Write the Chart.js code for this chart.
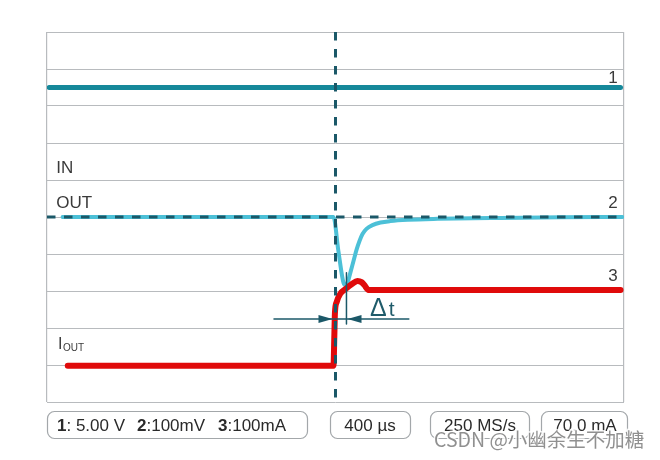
<!DOCTYPE html>
<html><head><meta charset="utf-8">
<script src="https://cdn.jsdelivr.net/npm/chart.js@4/dist/chart.umd.min.js"></script>
<style>html,body{margin:0;padding:0;background:#fff;}canvas{display:block;}</style>
</head><body>
<canvas id="c" width="660" height="460"></canvas>
<script>
// Horizontal: time in divisions (400 µs/div), 0 = trigger. Vertical: screen divisions.
const ch1X = [-4.96, 4.94];
const ch1Y = [3.5, 3.5];

const ch2X = [-4.73, -0.035, 0.05, 0.139, 0.173, 0.208, 0.26, 0.312, 0.364, 0.416, 0.468, 0.537, 0.641, 0.78, 0.95, 1.25, 1.77, 2.86, 3.90, 4.97];
const ch2Y = [0, 0, -0.92, -1.78, -1.84, -1.78, -1.49, -1.19, -0.89, -0.65, -0.46, -0.32, -0.22, -0.15, -0.11, -0.075, -0.05, -0.025, -0.01, 0];

const ch3X = [-4.64, -0.035, -0.02, -0.01, 0.02, 0.08, 0.18, 0.28, 0.38, 0.45, 0.50, 0.57, 4.94];
const ch3Y = [-4.02, -4.02, -3.2, -2.6, -2.3, -2.08, -1.94, -1.82, -1.73, -1.76, -1.84, -1.97, -1.97];

const triggerX = [0, 0];
const triggerY = [5, -5];
const refX = [-5, 5];
const refY = [0, 0];

const dtLineX = [-1.075, 1.28];
const dtLineY = [-2.76, -2.76];
const dtMarkX = [0.19, 0.19];
const dtMarkY = [-1.51, -2.89];
const dtArrowTipX = [-0.052, 0.208];   // left arrow points right, right arrow points left
const dtArrowY = -2.76;

const channelNames = ['1', '2', '3'];
const settings = [['1', ': 5.00 V'], ['2', ':100mV'], ['3', ':100mA']];
const timebase = '400 µs';
const sampleRate = '250 MS/s';
const trigLevel = '70.0 mA';
const watermark = 'CSDN @小幽余生不加糖';

const pts = (xs, ys) => xs.map((x, i) => ({x, y: ys[i]}));

const C_GRID = '#b8bbbe';
const C_TEAL = '#15889a';
const C_CYAN = '#4cc0d7';
const C_DASH = '#1b5868';
const C_RED = '#e00a0a';
const C_TEXT = '#3a3a3a';
const FONT = '"Liberation Sans", Arial, sans-serif';

const overlay = {
  id: 'overlay',
  afterDatasetsDraw(chart) {
    const {ctx} = chart;
    const xs = chart.scales.x, ys = chart.scales.y;
    const px = v => xs.getPixelForValue(v), py = v => ys.getPixelForValue(v);
    ctx.save();
    // arrowheads of the Δt marker
    ctx.fillStyle = C_DASH;
    const ay = py(dtArrowY);
    [[dtArrowTipX[0], -1], [dtArrowTipX[1], 1]].forEach(([tx, dir]) => {
      const x = px(tx);
      ctx.beginPath();
      ctx.moveTo(x, ay);
      ctx.lineTo(x + dir * 14, ay - 4);
      ctx.lineTo(x + dir * 14, ay + 4);
      ctx.closePath();
      ctx.fill();
    });
    // Δt text
    ctx.fillStyle = '#1f5b6a';
    ctx.textBaseline = 'alphabetic';
    ctx.textAlign = 'left';
    ctx.font = '25px ' + FONT;
    const dx = px(0.6), dy = py(-2.46) + 8;
    ctx.fillText('Δ', dx, dy);
    const dw = ctx.measureText('Δ').width;
    ctx.font = '21px ' + FONT;
    ctx.fillText('t', dx + dw + 2, dy);

    // channel markers
    ctx.textBaseline = 'middle';
    ctx.font = '17px ' + FONT;
    ctx.fillStyle = C_TEXT;
    ctx.textAlign = 'right';
    ctx.fillText(channelNames[0], px(4.89), py(3.76));
    ctx.fillText(channelNames[1], px(4.89), py(0.38));
    ctx.fillText(channelNames[2], px(4.89), py(-1.6));
    ctx.textAlign = 'left';
    ctx.fillText('IN', px(-4.84), py(1.32));
    ctx.fillText('OUT', px(-4.84), py(0.38));
    ctx.font = '16px ' + FONT;
    ctx.fillText('I', px(-4.81), py(-3.46));
    ctx.font = '10px ' + FONT;
    ctx.fillText('OUT', px(-4.81) + 5, py(-3.46) + 3);

    // bottom info boxes
    const boxes = [[47, 307], [330, 410], [430, 529], [541, 627]];
    ctx.strokeStyle = '#a3a7aa';
    ctx.lineWidth = 1.2;
    boxes.forEach(([l, r]) => {
      ctx.beginPath();
      ctx.roundRect(l + 0.5, 411.5, r - l, 27, 7);
      ctx.stroke();
    });
    ctx.fillStyle = '#2a2a2a';
    ctx.textBaseline = 'alphabetic';
    const segX = [57, 137, 218];
    settings.forEach(([n, rest], i) => {
      ctx.font = 'bold 17px ' + FONT;
      ctx.textAlign = 'left';
      ctx.fillText(n, segX[i], 431);
      const w = ctx.measureText(n).width;
      ctx.font = '17px ' + FONT;
      ctx.fillText(rest, segX[i] + w, 431);
    });
    ctx.textAlign = 'center';
    ctx.fillText(timebase, 370, 431);
    ctx.fillText(sampleRate, 480, 431);
    ctx.fillText(trigLevel, 585, 431);

    // watermark
    ctx.font = '19.5px "Noto Sans CJK SC", sans-serif';
    ctx.textAlign = 'left';
    ctx.textBaseline = 'middle';
    ctx.lineWidth = 3;
    ctx.strokeStyle = 'rgba(255,255,255,0.85)';
    ctx.strokeText(watermark, 434, 440);
    ctx.fillStyle = 'rgba(125,125,125,0.85)';
    ctx.fillText(watermark, 434, 440);
    ctx.restore();
  }
};

const lineDs = (data, color, width, order, extra) => Object.assign({
  data, borderColor: color, borderWidth: width, pointRadius: 0, showLine: true, order,
  fill: false, borderCapStyle: 'round', borderJoinStyle: 'round'
}, extra || {});

new Chart(document.getElementById('c'), {
  type: 'scatter',
  data: {
    datasets: [
      lineDs(pts(ch1X, ch1Y), C_TEAL, 5, 7),
      lineDs(pts(ch2X, ch2Y), C_CYAN, 4, 6, {cubicInterpolationMode: 'monotone'}),
      lineDs(pts(ch3X, ch3Y), C_RED, 6, 5, {cubicInterpolationMode: 'monotone'}),
      lineDs(pts(refX, refY), C_DASH, 3, 4, {borderDash: [8.5, 8.5], borderCapStyle: 'butt'}),
      lineDs(pts(triggerX, triggerY), C_DASH, 3, 3, {borderDash: [8.5, 8.5], borderCapStyle: 'butt'}),
      lineDs(pts(dtLineX, dtLineY), C_DASH, 1.5, 2, {borderCapStyle: 'butt'}),
      lineDs(pts(dtMarkX, dtMarkY), C_DASH, 1.5, 1, {borderCapStyle: 'butt'})
    ]
  },
  options: {
    responsive: false,
    animation: false,
    devicePixelRatio: 1,
    layout: {padding: {left: 47, right: 36, top: 32, bottom: 58}},
    plugins: {legend: {display: false}, tooltip: {enabled: false}},
    scales: {
      x: {
        type: 'linear', min: -5, max: 5,
        ticks: {display: false, stepSize: 5},
        grid: {drawTicks: false, lineWidth: 1.2,
          color: c => (c.tick && Math.abs(c.tick.value) === 5) ? C_GRID : 'rgba(0,0,0,0)'},
        border: {display: false}
      },
      y: {
        type: 'linear', min: -5, max: 5,
        ticks: {display: false, stepSize: 1},
        grid: {drawTicks: false, color: C_GRID, lineWidth: 1},
        border: {display: false}
      }
    }
  },
  plugins: [overlay]
});
</script>
</body></html>
